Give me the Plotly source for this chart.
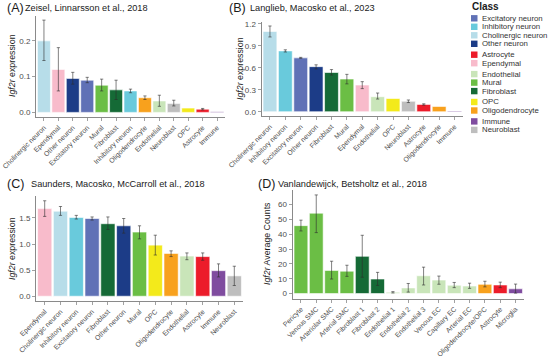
import plotly.graph_objects as go
import numpy as np

# ---------------- data ----------------
# Panel A: Zeisel, Linnarsson et al., 2018
a_cats = ["Cholinergic neuron", "Ependymal", "Other neuron", "Excitatory neuron", "Mural",
          "Fibroblast", "Inhibitory neuron", "Oligodendrocyte", "Endothelial", "Neuroblast",
          "OPC", "Astrocyte", "Immune"]
a_vals = [0.200, 0.120, 0.095, 0.090, 0.076, 0.063, 0.060, 0.041, 0.032, 0.025, 0.012, 0.009, 0.002]
a_lo = [0.145, 0.060, 0.079, 0.083, 0.060, 0.036, 0.055, 0.036, 0.017, 0.018, None, 0.007, None]
a_hi = [0.258, 0.181, 0.112, 0.098, 0.093, 0.090, 0.065, 0.046, 0.048, 0.034, None, 0.011, None]

# Panel B: Langlieb, Macosko et al., 2023
b_cats = ["Cholinergic neuron", "Inhibitory neuron", "Excitatory neuron", "Other neuron",
          "Fibroblast", "Mural", "Ependymal", "Endothelial", "OPC", "Neuroblast",
          "Astrocyte", "Oligodendrocyte", "Immune"]
b_vals = [1.095, 0.830, 0.735, 0.615, 0.535, 0.446, 0.364, 0.205, 0.180, 0.142, 0.100, 0.072, 0.010]
b_lo = [1.020, 0.815, 0.728, 0.585, 0.500, 0.380, 0.315, 0.173, None, 0.125, 0.090, None, None]
b_hi = [1.170, 0.845, 0.742, 0.640, 0.575, 0.510, 0.410, 0.255, None, 0.160, 0.108, None, None]

# Panel C: Saunders, Macosko, McCarroll et al., 2018
c_cats = ["Ependymal", "Cholinergic neuron", "Inhibitory neuron", "Excitatory neuron",
          "Fibroblast", "Other neuron", "Mural", "OPC", "Oligodendrocyte", "Endothelial",
          "Astrocyte", "Immune", "Neuroblast"]
c_vals = [1.68, 1.63, 1.51, 1.49, 1.39, 1.35, 1.23, 0.98, 0.82, 0.77, 0.76, 0.49, 0.39]
c_lo = [1.53, 1.55, 1.48, 1.46, 1.28, 1.21, 1.10, 0.79, 0.76, 0.70, 0.69, 0.37, 0.205]
c_hi = [1.83, 1.72, 1.55, 1.52, 1.52, 1.49, 1.35, 1.17, 0.87, 0.83, 0.83, 0.62, 0.575]

# Panel D: Vanlandewijck, Betsholtz et al., 2018
d_cats = ["Pericyte", "Venous SMC", "Arteriolar SMC", "Arterial SMC", "Fibroblast 1",
          "Fibroblast 2", "Endothelial 1", "Endothelial 2", "Endothelial 3", "Venous EC",
          "Capillary EC", "Arterial EC", "Oligodendrocyte/OPC", "Astrocyte", "Microglia"]
d_class = ["Mural", "Mural", "Mural", "Mural", "Fibroblast", "Fibroblast", "Endothelial",
           "Endothelial", "Endothelial", "Endothelial", "Endothelial", "Endothelial",
           "Oligodendrocyte", "Astrocyte", "Immune"]
d_vals = [45.8, 54.2, 15.6, 15.1, 25.1, 9.8, 0.9, 3.8, 12.0, 9.1, 5.6, 5.1, 6.2, 5.8, 3.2]
d_lo = [42.2, 41.1, 9.8, 11.6, 11.0, 5.5, 0.4, 1.0, 5.8, 6.3, 4.0, 3.5, 4.5, 4.0, 0.3]
d_hi = [49.5, 66.5, 21.8, 19.1, 39.3, 14.3, 1.3, 6.8, 17.8, 11.8, 7.5, 7.0, 8.3, 7.7, 6.4]

# Legend (class -> colour), grouped as in the reference
legend_groups = [
    ["Excitatory neuron", "Inhibitory neuron", "Cholinergic neuron", "Other neuron"],
    ["Astrocyte", "Ependymal"],
    ["Endothelial", "Mural", "Fibroblast"],
    ["OPC", "Oligodendrocyte"],
    ["Immune", "Neuroblast"],
]
class_colors = {
    "Excitatory neuron": "#6071B6",
    "Inhibitory neuron": "#69CADC",
    "Cholinergic neuron": "#B7DDE9",
    "Other neuron": "#1C3C87",
    "Astrocyte": "#EC1C2A",
    "Ependymal": "#F8BBCB",
    "Endothelial": "#C9E5B9",
    "Mural": "#6BBE45",
    "Fibroblast": "#156A36",
    "OPC": "#F3EA1B",
    "Oligodendrocyte": "#F8A11D",
    "Immune": "#7F4C9F",
    "Neuroblast": "#BEBEBE",
}

FONT = "Liberation Sans, Arial, sans-serif"
W, H = 550, 356
TICKCOL = "#4D4D4D"
AXCOL = "#8A8A8A"


def px(x):
    return x / W


def py(y):
    return 1 - y / H


fig = go.Figure()

panels = [
    # cats, classes, vals, lo, hi, x0, x1, ytop, ybot, dtick, fmt
    (a_cats, a_cats, a_vals, a_lo, a_hi, 36, 225, 15.5, 117, 0.1, ".1f"),
    (b_cats, b_cats, b_vals, b_lo, b_hi, 261.5, 463, 21.7, 116, 0.3, ".1f"),
    (c_cats, c_cats, c_vals, c_lo, c_hi, 36, 243, 196, 301, 0.5, ".1f"),
    (d_cats, d_class, d_vals, d_lo, d_hi, 292.5, 524, 190, 298.5, 10, "d"),
]

for i, (cats, classes, vals, lo, hi, x0, x1, yt, yb, dt, fmt) in enumerate(panels):
    n = i + 1
    sfx = "" if n == 1 else str(n)
    v = np.array(vals, dtype=float)
    l = np.array([np.nan if q is None else q for q in lo], dtype=float)
    h = np.array([np.nan if q is None else q for q in hi], dtype=float)
    fig.add_trace(go.Bar(
        x=list(range(len(cats))), y=v,
        marker=dict(color=[class_colors[c] for c in classes],
                    line=dict(color="white", width=0.6)),
        error_y=dict(type="data", symmetric=False, array=h - v, arrayminus=v - l,
                     color="rgba(45,45,45,0.75)", thickness=0.8, width=1.6),
        xaxis="x" + sfx, yaxis="y" + sfx, showlegend=False, width=0.9,
        hoverinfo="skip",
    ))
    top = np.nanmax(np.concatenate([v, h]))
    yr = [-0.05 * top, 1.05 * top]
    fig.layout["xaxis" + sfx] = dict(
        domain=[px(x0), px(x1)], anchor="y" + sfx, automargin=False,
        range=[-0.55, len(cats) - 0.45],
        tickmode="array", tickvals=list(range(len(cats))), ticktext=cats,
        tickangle=-45, tickfont=dict(size=6.9, color=TICKCOL, family=FONT),
        ticklabeloverflow="allow",
        showline=True, linecolor=AXCOL, linewidth=1,
        ticks="outside", ticklen=3, tickcolor=AXCOL, tickwidth=0.8,
        showgrid=False, zeroline=False, fixedrange=True,
    )
    fig.layout["yaxis" + sfx] = dict(
        domain=[py(yb), py(yt)], anchor="x" + sfx, automargin=False,
        range=yr, dtick=dt, tick0=0, tickformat=fmt,
        tickfont=dict(size=8, color=TICKCOL, family=FONT),
        ticklabeloverflow="allow",
        showline=True, linecolor=AXCOL, linewidth=1,
        ticks="outside", ticklen=3, tickcolor=AXCOL, tickwidth=0.8,
        showgrid=False, zeroline=False, fixedrange=True,
    )

annotations = []
# Panel titles
titles = [
    ("(A)", "Zeisel, Linnarsson et al., 2018", 5, 23, 8),
    ("(B)", "Langlieb, Macosko et al., 2023", 227, 248, 8),
    ("(C)", "Saunders, Macosko, McCarroll et al., 2018", 5, 29, 184),
    ("(D)", "Vanlandewijck, Betsholtz et al., 2018", 256, 276, 184),
]
for lab, txt, lx, tx, ty in titles:
    annotations.append(dict(text=lab, x=px(lx), y=py(ty), xref="paper", yref="paper",
                            xanchor="left", yanchor="middle", showarrow=False,
                            font=dict(size=12.5, color="#1a1a1a", family=FONT)))
    annotations.append(dict(text=txt, x=px(tx), y=py(ty), xref="paper", yref="paper",
                            xanchor="left", yanchor="middle", showarrow=False,
                            font=dict(size=9.2, color="#1a1a1a", family=FONT)))

# Y axis titles
ytitles = [
    ("<i>Igf2r</i> expression", 12, 66),
    ("<i>Igf2r</i> expression", 240, 69),
    ("<i>Igf2r</i> expression", 12, 249),
    ("<i>Igf2r</i> Average Counts", 267, 244),
]
for txt, x, y in ytitles:
    annotations.append(dict(text=txt, x=px(x), y=py(y), xref="paper", yref="paper",
                            xanchor="center", yanchor="middle", showarrow=False,
                            textangle=-90, font=dict(size=8.8, color="#1a1a1a", family=FONT)))

# Manual legend
shapes = []
annotations.append(dict(text="<b>Class</b>", x=px(470), y=py(7), xref="paper", yref="paper",
                        xanchor="left", yanchor="middle", showarrow=False,
                        font=dict(size=10, color="#1a1a1a", family=FONT)))
yc = 18.3
for g in legend_groups:
    for cls in g:
        shapes.append(dict(type="rect", xref="paper", yref="paper",
                           x0=px(471), x1=px(477.5), y0=py(yc + 3.2), y1=py(yc - 3.2),
                           fillcolor=class_colors[cls], line=dict(width=0)))
        annotations.append(dict(text=cls, x=px(479.5), y=py(yc), xref="paper", yref="paper",
                                xanchor="left", yanchor="middle", showarrow=False,
                                font=dict(size=7.8, color="#333333", family=FONT)))
        yc += 8.5
    yc += 2.4

fig.update_layout(
    template="none",
    width=W, height=H, margin=dict(l=0, r=0, t=0, b=0, autoexpand=False),
    paper_bgcolor="white", plot_bgcolor="white",
    bargap=0.1, showlegend=False, hovermode=False,
    annotations=annotations, shapes=shapes,
    font=dict(family=FONT),
)

fig.write_html(
    "out.html",
    config={"displayModeBar": False, "staticPlot": True},
    post_script="document.body.style.margin='0px';document.body.style.overflow='hidden';",
)
